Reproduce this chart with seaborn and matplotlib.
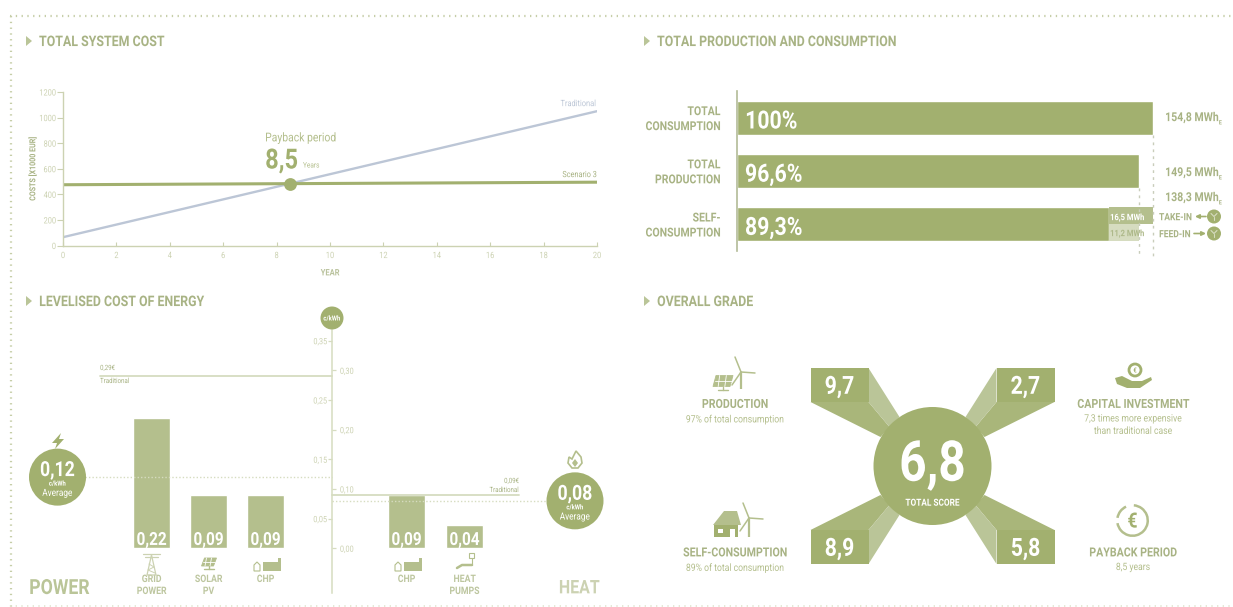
import matplotlib
matplotlib.use("Agg")
import matplotlib.pyplot as plt
from matplotlib.patches import Circle, Polygon, Rectangle, Wedge
from matplotlib.patheffects import AbstractPathEffect
from matplotlib.text import Text
from matplotlib.transforms import Affine2D, ScaledTranslation
import pandas as pd
import seaborn as sns

# Total system cost
years = [0, 20]
traditional_cost = [65, 1050]
scenario_cost = [475, 495]
payback_year = 8.5
payback_cost = 480

# Production and consumption, MWh
balance_labels = ["TOTAL\nCONSUMPTION", "TOTAL\nPRODUCTION", "SELF-\nCONSUMPTION"]
balance_mwh = [154.8, 149.5, 138.3]
balance_pct = ["100%", "96,6%", "89,3%"]
balance_text = ["154,8 MWh", "149,5 MWh", "138,3 MWh"]
take_in_mwh = 16.5
feed_in_mwh = 11.2

# Levelised cost of energy, EUR/kWh
power_names = ["GRID\nPOWER", "SOLAR\nPV", "CHP"]
power_lcoe = [0.22, 0.09, 0.09]
heat_names = ["CHP", "HEAT\nPUMPS"]
heat_lcoe = [0.09, 0.04]
power_traditional = 0.29
heat_traditional = 0.09
power_average = 0.12
heat_average = 0.08
left_ticks = [0.35, 0.25, 0.15, 0.05]
right_ticks = [0.30, 0.20, 0.10, 0.00]

# Overall grade
grade_scores = ["9,7", "2,7", "8,9", "5,8"]
total_score = "6,8"

W, H = 1233, 607
GREEN = "#a2b06f"
BAND = "#a9b67a"
MID = "#b4bf8d"
LIGHT = "#bac598"
PALE = "#d6dcc0"
LABEL = "#a8b384"
FAINT = "#ccd2b2"
BLUE = "#bcc6d6"

sns.set_theme(style="white")
plt.rcParams["font.family"] = ["Roboto", "DejaVu Sans"]
plt.rcParams["mathtext.fontset"] = "custom"
plt.rcParams["mathtext.rm"] = "Roboto:bold"
plt.rcParams["mathtext.default"] = "rm"

fig = plt.figure(figsize=(W / 100, H / 100), dpi=100, facecolor="white")


class Condensed(AbstractPathEffect):
    """Narrows glyphs horizontally around the text's own alignment point."""

    def __init__(self, factor, ha):
        super().__init__()
        self.factor = factor
        self.ha = ha

    def draw_path(self, renderer, gc, tpath, affine, rgbFace=None):
        ext = tpath.get_extents()
        anchor = {"left": ext.x0, "center": (ext.x0 + ext.x1) / 2, "right": ext.x1}[self.ha]
        squeeze = Affine2D().translate(-anchor, 0).scale(self.factor, 1).translate(anchor, 0)
        renderer.draw_path(gc, tpath, squeeze + affine, rgbFace)


def px_axes(x0, y0, x1, y1):
    ax = fig.add_axes([x0 / W, 1 - y1 / H, (x1 - x0) / W, (y1 - y0) / H])
    ax.patch.set_alpha(0)
    return ax


def comma(v):
    return f"{v:.2f}".replace(".", ",")


# ---- cost lines ----
ax = px_axes(63, 92, 597, 245.5)
cost = pd.DataFrame({"year": years, "Traditional": traditional_cost, "Scenario 3": scenario_cost})
sns.lineplot(data=cost, x="year", y="Traditional", color=BLUE, lw=1.7, ax=ax)
sns.lineplot(data=cost, x="year", y="Scenario 3", color=GREEN, lw=2.2, ax=ax)
sns.scatterplot(x=[payback_year], y=[payback_cost], color=GREEN, s=85, linewidth=0, zorder=5, ax=ax)
ax.set_xlim(0, 20)
ax.set_ylim(0, 1200)
ax.set_xticks(range(0, 21, 2))
ax.set_yticks(range(0, 1201, 200))
ax.tick_params(axis="y", left=True, length=4, width=0.8, color=FAINT, labelcolor=FAINT, labelsize=6.3, pad=1)
ax.tick_params(axis="x", bottom=True, direction="in", length=3, width=0.8, color=FAINT, labelcolor=FAINT, labelsize=6.3, pad=4)
sns.despine(ax=ax)
for s in ("left", "bottom"):
    ax.spines[s].set_color(FAINT)
    ax.spines[s].set_linewidth(1.0)
ax.set_xlabel("YEAR", color=LABEL, fontsize=6.4, fontweight="bold", labelpad=6, alpha=0.8)
ax.set_ylabel("COSTS [X1000 EUR]", color=LABEL, fontsize=6, fontweight="bold")
ax.yaxis.set_label_coords(-0.05, 0.5)

# ---- production and consumption bars ----
ax = px_axes(736.5, 91.4, 1153, 251)
sns.barplot(x=balance_mwh, y=balance_labels, color=GREEN, saturation=1, width=0.64, orient="h", ax=ax)
ax.barh(2 - 0.16, take_in_mwh, left=balance_mwh[2], height=0.32, color=MID, lw=0)
ax.barh(2 + 0.16, feed_in_mwh, left=balance_mwh[2], height=0.32, color=PALE, lw=0)
ax.set_xlim(0, balance_mwh[0])
ax.set_ylim(2.5, -0.5)
ax.set_xticks([])
ax.set_xlabel("")
ax.tick_params(axis="y", left=False, labelsize=8.9, labelcolor=LABEL, pad=5.5)
for t in ax.get_yticklabels():
    t.set_fontweight("bold")
    t.set_ha("right")
    t.set_linespacing(1.2)
    t.set_transform(t.get_transform() + ScaledTranslation(0, 1 / 72, fig.dpi_scale_trans))
for s in ("top", "right", "bottom"):
    ax.spines[s].set_visible(False)
ax.spines["left"].set_color("#b3bb97")
ax.spines["left"].set_linewidth(1.2)
for i, pct in enumerate(balance_pct):
    ax.annotate(pct, (0, i), xytext=(6, -2.5), textcoords="offset points", color="white",
                fontsize=18, fontweight="bold", va="center", ha="left")
for v, top in ((balance_mwh[0], 0.32), (balance_mwh[1], 1.32)):
    ax.plot([v, v], [top, 2.62], color="#c9cdbb", lw=1, ls=(0, (2, 3)), clip_on=False, zorder=6)

# ---- levelised cost ----
lcoe_top, lcoe_bottom = 330, 593
ylow = -(lcoe_bottom - 548.3) / 593.1
yhigh = (548.3 - lcoe_top) / 593.1


def lcoe_bars(x0, x1, names, values, width):
    bx = px_axes(x0, lcoe_top, x1, lcoe_bottom)
    sns.barplot(x=names, y=values, color=MID, saturation=1, width=width, ax=bx)
    bx.set_ylim(ylow, yhigh)
    bx.axis("off")
    for i, v in enumerate(values):
        bx.annotate(comma(v), (i, 0), xytext=(0, 6), textcoords="offset points", color="white",
                    fontsize=13, fontweight="bold", ha="center", va="center")
        bx.annotate(names[i], (i, 0), xytext=(0, -18.5), textcoords="offset points", color="#bdc69f",
                    fontsize=7.4, fontweight="bold", ha="center", va="top", linespacing=1.25)


lcoe_bars(123, 294, power_names, power_lcoe, 0.65)
lcoe_bars(377.5, 493.5, heat_names, heat_lcoe, 0.64)

# Shared value scale with ticks alternating on both sides of the centre line
ax = px_axes(332, lcoe_top, 332.2, lcoe_bottom)
ax.set_ylim(ylow, yhigh)
ax.set_xticks([])
ax.set_yticks(left_ticks, [comma(v) for v in left_ticks])
ax.tick_params(axis="y", left=True, length=3, width=0.9, color=PALE, labelcolor=FAINT, labelsize=6.2, pad=0.5)
for s in ("top", "right", "bottom"):
    ax.spines[s].set_visible(False)
ax.spines["left"].set_color(PALE)
ax.spines["left"].set_linewidth(1.1)
axr = ax.twinx()
axr.set_ylim(ylow, yhigh)
axr.set_yticks(right_ticks, [comma(v) for v in right_ticks])
axr.tick_params(axis="y", right=True, length=3, width=0.9, color=PALE, labelcolor=FAINT, labelsize=6.2, pad=2.5)
for s in axr.spines.values():
    s.set_visible(False)


def lcoe_y(v):
    return 548.3 - 593.1 * v


# ---- decoration layer in pixel coordinates ----
o = fig.add_axes([0, 0, 1, 1], zorder=10)
o.set_xlim(0, W)
o.set_ylim(H, 0)
o.axis("off")
o.patch.set_alpha(0)


def txt(x, y, s, size, color=LABEL, weight="normal", ha="left", va="center", **kw):
    # shift by the font's descent share so y is the middle of the capitals
    shift = size * 0.1 if va == "center" else 0
    return o.text(x, y + shift, s, fontsize=size, color=color, fontweight=weight, ha=ha, va=va, **kw)


# dotted frame
dots = dict(color="#c6cea8", lw=1.6, ls=(0, (0.6, 2.0)))
o.plot([10, W], [16, 16], **dots)
o.plot([11, 11], [16, H], **dots)
o.plot([10, W], [605.5, 605.5], color="#e0e4d0", lw=1.2, ls=(0, (0.8, 2.6)))

# section headings
for x, y, s in ((39, 41, "TOTAL SYSTEM COST"), (657, 41, "TOTAL PRODUCTION AND CONSUMPTION"),
                (39, 301, "LEVELISED COST OF ENERGY"), (657, 301, "OVERALL GRADE")):
    txt(x, y, s, 10.5, weight="bold")
    o.add_patch(Polygon([(x - 13, y - 5), (x - 13 + 6, y), (x - 13, y + 5)], color=LIGHT, lw=0))

# cost annotations
txt(265, 137, "Payback period", 8.8, color=MID)
txt(265, 159, "8,5", 20, color=GREEN, weight="bold")
txt(303, 165, "Years", 5.5, color=MID)
txt(596, 103, "Traditional", 6.3, color=BLUE, ha="right")
txt(597, 174, "Scenario 3", 6.2, color=LABEL, ha="right")

# balance annotations
for y, s in zip((117, 172, 197), balance_text):
    txt(1165, y, s + r"$_{_{\mathrm{E}}}$", 8.9, weight="bold")
txt(1110, 217, "16,5 MWh", 6.4, color="white", weight="bold")
txt(1110, 233, "11,2 MWh", 6.4, color="#aeb98a", weight="bold")
txt(1159, 216.5, "TAKE-IN", 7.2, weight="bold")
txt(1159, 233.5, "FEED-IN", 7.2, weight="bold")
o.annotate("", (1195, 216.5), (1206, 216.5), arrowprops=dict(arrowstyle="-|>", color=GREEN, lw=1.2, mutation_scale=6, shrinkA=0, shrinkB=0))
o.annotate("", (1206, 233.5), (1194, 233.5), arrowprops=dict(arrowstyle="-|>", color=GREEN, lw=1.2, mutation_scale=6, shrinkA=0, shrinkB=0))
for y in (216.5, 233.5):
    o.add_patch(Circle((1214, y), 7, color=GREEN, lw=0))
    o.plot([1211, 1214, 1217], [y - 3, y, y - 3], color=PALE, lw=0.8)
    o.plot([1214, 1214], [y, y + 3.5], color=PALE, lw=0.8)

# levelised cost reference lines and averages
o.plot([100, 332], [lcoe_y(power_traditional)] * 2, color=PALE, lw=1.3)
txt(100, 368, "0,29€", 5.2, color=LABEL)
txt(100, 381, "Traditional", 5.2, color=LABEL)
o.plot([332, 519], [lcoe_y(heat_traditional)] * 2, color=PALE, lw=1.3)
txt(519, 481, "0,09€", 5.2, color=LABEL, ha="right")
txt(519, 490, "Traditional", 5.2, color=LABEL, ha="right")
o.plot([85, 332], [lcoe_y(power_average)] * 2, color=PALE, lw=1, ls=(0, (1, 1.5)))
o.plot([332, 547], [lcoe_y(heat_average)] * 2, color=PALE, lw=1, ls=(0, (1, 1.5)))

for cx, v, s in ((57.5, power_average, comma(power_average)), (575, heat_average, comma(heat_average))):
    cy = lcoe_y(v)
    o.add_patch(Circle((cx, cy), 28.5, color=GREEN, lw=0, zorder=3))
    txt(cx, cy - 8, s, 15, color="white", weight="bold", ha="center", zorder=4)
    txt(cx, cy + 6, "c/kWh", 5, color="white", weight="bold", ha="center", zorder=4)
    txt(cx, cy + 15, "Average", 7, color="white", ha="center", zorder=4)
o.add_patch(Circle((332, 318), 11.5, color=GREEN, lw=0))
txt(332, 318, "c/kWh", 5, color="white", weight="bold", ha="center")
txt(29, 587, "POWER", 15, color=LIGHT, weight="bold")
txt(600, 587, "HEAT", 13.5, color=FAINT, weight="bold", ha="right")

# bolt above the power average
o.add_patch(Polygon([(61, 433), (52, 443), (57, 443), (55, 449), (64, 439), (59, 439)], color=GREEN, lw=0))
# flame above the heat average
o.add_patch(Polygon([(576, 451), (581, 457), (582, 463), (578, 468), (572, 468), (568, 463), (569, 457), (572, 459)],
                    fc="none", ec=MID, lw=1.2))
o.add_patch(Polygon([(575, 459), (578, 463), (575, 467), (572, 463)], fc=MID, lw=0))


def panel(cx, cy, w=20, h=11):
    o.add_patch(Polygon([(cx - w / 2 + 3, cy - h / 2), (cx + w / 2, cy - h / 2), (cx + w / 2 - 3, cy + h / 2), (cx - w / 2, cy + h / 2)],
                        fc=MID, ec=MID, lw=0.6))
    o.plot([cx - w / 6, cx - w / 6 - 1.5], [cy - h / 2, cy + h / 2], color="white", lw=0.6)
    o.plot([cx + w / 6, cx + w / 6 - 1.5], [cy - h / 2, cy + h / 2], color="white", lw=0.6)
    o.plot([cx - w / 2 + 1.5, cx + w / 2 - 1.5], [cy, cy], color="white", lw=0.6)
    o.plot([cx, cx], [cy + h / 2, cy + h / 2 + 3], color=MID, lw=1)
    o.plot([cx - 5, cx + 5], [cy + h / 2 + 3] * 2, color=MID, lw=1)


def turbine(cx, cy, base):
    o.plot([cx, cx], [cy, base], color=MID, lw=1.6, solid_capstyle="butt")
    o.plot([cx, cx - 6], [cy, cy - 15], color=MID, lw=1.1)
    o.plot([cx, cx + 14], [cy, cy + 1], color=MID, lw=1.1)
    o.plot([cx, cx - 9], [cy, cy + 13], color=MID, lw=1.1)


def chp(cx, cy):
    o.add_patch(Rectangle((cx - 3, cy - 4), 15, 9, color=MID, lw=0))
    o.add_patch(Rectangle((cx + 12, cy - 8), 3, 13, color=MID, lw=0))
    o.add_patch(Polygon([(cx - 12, cy + 5), (cx - 12, cy - 1), (cx - 9, cy - 4), (cx - 6, cy - 1), (cx - 6, cy + 5)], fc="none", ec=MID, lw=0.8))


# production: panel with turbine
panel(723, 381)
turbine(741, 372, 389)
# capital investment: hand holding a coin
o.add_patch(Circle((1135, 370), 6, fc="none", ec=GREEN, lw=2))
txt(1135, 370, "€", 5, color=GREEN, weight="bold", ha="center")
o.add_patch(Polygon([(1115, 378), (1122, 376), (1132, 381), (1142, 381), (1151, 377), (1152, 380), (1140, 388), (1127, 388), (1117, 384)], color=GREEN, lw=0))
# self-consumption: house with turbine
o.add_patch(Polygon([(713, 525), (724, 511), (737, 511), (741, 525)], color=MID, lw=0))
o.add_patch(Rectangle((714, 525), 24, 12, color=GREEN, lw=0))
o.add_patch(Rectangle((718, 529), 5, 4, color="white", lw=0))
o.add_patch(Rectangle((730, 529), 5, 8, color="white", lw=0))
turbine(749, 518, 537)
# payback: coin inside a ring with one gap at the upper left
o.add_patch(Wedge((1132.5, 520.5), 16.5, -85, 170, width=2.5, color=MID, lw=0))
o.add_patch(Wedge((1132.5, 520.5), 16.5, 190, 245, width=2.5, color=MID, lw=0))
txt(1132.5, 520.5, "€", 15, color=GREEN, weight="bold", ha="center")

# small LCOE technology icons
o.plot([151.5, 147, 156, 151.5], [555, 575, 575, 555], color=FAINT, lw=0.9)
o.plot([145, 158], [557, 557], color=FAINT, lw=0.9)
o.plot([143, 160], [554, 554], color=FAINT, lw=0.9)
o.plot([149, 154, 148, 155], [564, 567, 570, 573], color=FAINT, lw=0.7)
panel(209, 562, 15, 8)
chp(266, 566)
chp(407, 566)
o.plot([457, 462, 470, 472], [568, 565, 565, 565], color=MID, lw=1.8)
o.plot([472, 472], [565, 558], color=MID, lw=0.8)
o.add_patch(Rectangle((468.5, 553), 5, 5, fc="none", ec=MID, lw=0.8))

# ---- overall grade ----
CX, CY = 932.5, 466
corners = ((-1, -1), (1, -1), (-1, 1), (1, 1))
for (sx, sy), score in zip(corners, grade_scores):
    P = lambda dx, dy: (CX + sx * dx, CY + sy * dy)
    o.add_patch(Polygon([P(122, 64), P(64, 64), P(43, 39), P(52, 29)], color=BAND, lw=0))
    o.add_patch(Polygon([P(64, 98), P(64, 64), P(43, 39), P(33, 49)], color=LIGHT, lw=0))
    o.add_patch(Rectangle((min(CX + sx * 64, CX + sx * 122), min(CY + sy * 64, CY + sy * 98)), 58, 34, color=GREEN, lw=0))
    txt(CX + sx * 93, CY + sy * 81, score, 18, color="white", weight="bold", ha="center")
o.add_patch(Circle((CX, CY), 59, color=GREEN, lw=0, zorder=4))
txt(CX, 461.7, total_score, 40.5, color="white", weight="bold", ha="center", zorder=5)
txt(CX, 502, "TOTAL SCORE", 7, color="white", weight="bold", ha="center", zorder=5)

for x, y, head, sub in ((735, 403.5, "PRODUCTION", "97% of total consumption"),
                        (1133, 403.5, "CAPITAL INVESTMENT", "7,3 times more expensive\nthan traditional case"),
                        (735, 552, "SELF-CONSUMPTION", "89% of total consumption"),
                        (1133, 552, "PAYBACK PERIOD", "8,5 years")):
    txt(x, y, head, 9, weight="bold", ha="center")
    txt(x, y + 10, sub, 7.3, color=MID, ha="center", va="top", linespacing=1.3)

# narrow every label once tick labels exist
fig.canvas.draw()
for t in fig.findobj(Text):
    if t.get_text():
        t.set_path_effects([Condensed(0.85, t.get_ha())])

fig.savefig("out.png", dpi=100, facecolor="white")
